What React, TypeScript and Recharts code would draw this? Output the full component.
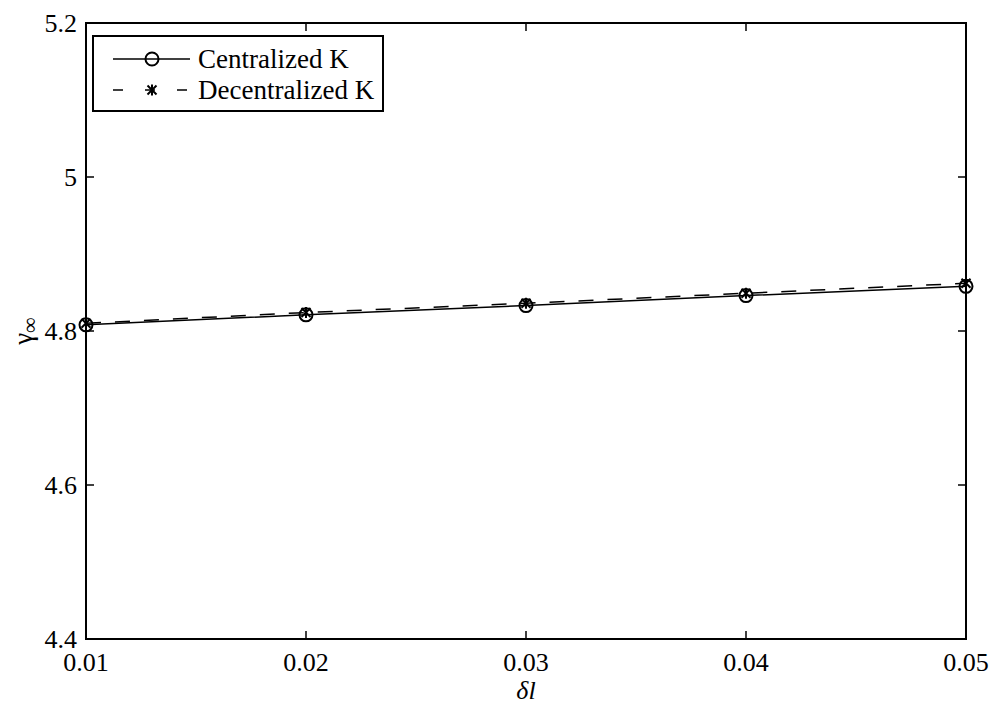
import { LineChart, Line, XAxis, YAxis, Legend, ReferenceArea } from "recharts";

const xValues = [0.01, 0.02, 0.03, 0.04, 0.05];
const centralized = [4.808, 4.821, 4.833, 4.846, 4.858];
const decentralized = [4.81, 4.824, 4.836, 4.849, 4.862];
const xTicks = [0.01, 0.02, 0.03, 0.04, 0.05];
const yTicks = [4.4, 4.6, 4.8, 5, 5.2];

const FONT = "Liberation Serif, DejaVu Serif, serif";
const PLOT = { left: 86, right: 966, top: 23, bottom: 639 };
const TICK_LEN = 8;

const data = xValues.map((x, i) => ({
  x,
  centralized: centralized[i],
  decentralized: decentralized[i],
}));

function XTick(props: any) {
  const { x, payload } = props;
  return (
    <g>
      <line x1={x} x2={x} y1={PLOT.bottom} y2={PLOT.bottom - TICK_LEN} stroke="#000" strokeWidth={1.5} />
      <line x1={x} x2={x} y1={PLOT.top} y2={PLOT.top + TICK_LEN} stroke="#000" strokeWidth={1.5} />
      <text x={x} y={671} textAnchor="middle" style={{ fontFamily: FONT }} fontSize={26} fill="#000">
        {payload.value.toFixed(2)}
      </text>
    </g>
  );
}

function YTick(props: any) {
  const { y, payload } = props;
  const v = payload.value;
  const label = Number.isInteger(v) ? String(v) : v.toFixed(1);
  return (
    <g>
      <line x1={PLOT.left} x2={PLOT.left + TICK_LEN} y1={y} y2={y} stroke="#000" strokeWidth={1.5} />
      <line x1={PLOT.right} x2={PLOT.right - TICK_LEN} y1={y} y2={y} stroke="#000" strokeWidth={1.5} />
      <text x={77} y={y + 9} textAnchor="end" style={{ fontFamily: FONT }} fontSize={26} fill="#000">
        {label}
      </text>
    </g>
  );
}

function CircleDot(props: any) {
  const { cx, cy } = props;
  if (cx == null || cy == null) return null;
  return <circle cx={cx} cy={cy} r={6.5} fill="none" stroke="#000" strokeWidth={2} />;
}

function StarDot(props: any) {
  const { cx, cy } = props;
  if (cx == null || cy == null) return null;
  const s = 4.5;
  return (
    <g stroke="#000" strokeWidth={2}>
      <line x1={cx - s} y1={cy - s} x2={cx + s} y2={cy + s} />
      <line x1={cx - s} y1={cy + s} x2={cx + s} y2={cy - s} />
      <line x1={cx} y1={cy - s - 1} x2={cx} y2={cy + s + 1} />
    </g>
  );
}

function LegendBox() {
  const rows = [
    { label: "Centralized K", dash: undefined, Marker: CircleDot, top: 24 },
    { label: "Decentralized K", dash: "10 22", Marker: StarDot, top: 55 },
  ];
  return (
    <div
      style={{
        position: "relative",
        width: 292,
        height: 77,
        boxSizing: "border-box",
        border: "2px solid #000",
        background: "#fff",
      }}
    >
      {rows.map(({ label, dash, Marker, top }) => (
        <div
          key={label}
          style={{ position: "absolute", left: 0, top: top - 2 - 16, height: 32, display: "flex", alignItems: "center" }}
        >
          <svg width={104} height={32} style={{ display: "block" }}>
            <line x1={19} x2={96} y1={16} y2={16} stroke="#000" strokeWidth={1.5} strokeDasharray={dash} />
            <Marker cx={58} cy={16} />
          </svg>
          <span style={{ fontFamily: FONT, fontSize: 27, color: "#000", lineHeight: "32px", whiteSpace: "nowrap" }}>
            {label}
          </span>
        </div>
      ))}
    </div>
  );
}

export default function App() {
  return (
    <div style={{ position: "absolute", left: 0, top: 0, width: 994, height: 709, background: "#fff" }}>
      <LineChart
        width={994}
        height={709}
        data={data}
        margin={{ top: PLOT.top, right: 994 - PLOT.right, left: 0, bottom: 0 }}
      >
        <XAxis
          dataKey="x"
          type="number"
          domain={[0.01, 0.05]}
          ticks={xTicks}
          tick={<XTick />}
          tickLine={false}
          axisLine={false}
          height={709 - PLOT.bottom}
          interval={0}
        />
        <YAxis
          type="number"
          domain={[4.4, 5.2]}
          ticks={yTicks}
          tick={<YTick />}
          tickLine={false}
          axisLine={false}
          width={PLOT.left}
          interval={0}
        />
        <ReferenceArea
          x1={0.01}
          x2={0.05}
          y1={4.4}
          y2={5.2}
          fill="none"
          fillOpacity={0}
          stroke="#000"
          strokeWidth={2}
        />
        <Line
          dataKey="centralized"
          name="Centralized K"
          stroke="#000"
          strokeWidth={1.5}
          dot={<CircleDot />}
          activeDot={false}
          isAnimationActive={false}
        />
        <Line
          dataKey="decentralized"
          name="Decentralized K"
          stroke="#000"
          strokeWidth={1.5}
          strokeDasharray="15 14"
          dot={<StarDot />}
          activeDot={false}
          isAnimationActive={false}
        />
        <Legend
          layout="vertical"
          align="center"
          verticalAlign="middle"
          content={<LegendBox />}
          wrapperStyle={{ left: 92, top: 35, width: 292, height: 77 }}
        />
        <text
          x={526}
          y={699}
          textAnchor="middle"
          style={{ fontFamily: FONT, fontStyle: "italic" }}
          fontSize={26}
          fill="#000"
        >
          δl
        </text>
        <text
          transform="translate(32, 331) rotate(-90)"
          textAnchor="middle"
          style={{ fontFamily: FONT }}
          fontSize={27}
          fill="#000"
        >
          γ<tspan fontSize={22} dy={5}>∞</tspan>
        </text>
      </LineChart>
    </div>
  );
}
